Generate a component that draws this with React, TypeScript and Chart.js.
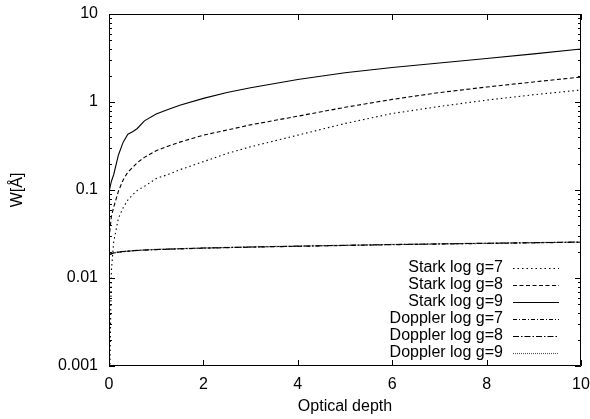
import { useEffect, useRef } from "react";
import { Chart, registerables } from "chart.js";

Chart.register(...registerables);

const depth = [0, 0.05, 0.1, 0.2, 0.3, 0.4, 0.5, 0.6, 0.75, 1, 1.25, 1.5, 2, 2.5, 3, 4, 5, 6, 7, 8, 9, 10];

const starkG7 = [0.0002, 0.012, 0.026, 0.048, 0.063, 0.077, 0.088, 0.099, 0.11, 0.135, 0.15, 0.17, 0.21, 0.26, 0.31, 0.42, 0.57, 0.74, 0.89, 1.05, 1.21, 1.37];
const starkG8 = [0.028, 0.05, 0.064, 0.097, 0.13, 0.16, 0.18, 0.205, 0.235, 0.28, 0.315, 0.35, 0.42, 0.48, 0.55, 0.69, 0.87, 1.07, 1.28, 1.48, 1.69, 1.92];
const starkG9 = [0.095, 0.125, 0.15, 0.25, 0.35, 0.43, 0.46, 0.5, 0.61, 0.73, 0.82, 0.92, 1.1, 1.28, 1.45, 1.8, 2.15, 2.47, 2.78, 3.12, 3.52, 4.0];
const dopplerG7 = [0.0184, 0.0188, 0.0192, 0.0196, 0.0199, 0.0201, 0.0203, 0.0205, 0.0207, 0.021, 0.0212, 0.0214, 0.0218, 0.0221, 0.0224, 0.0229, 0.0234, 0.0239, 0.0243, 0.0247, 0.0251, 0.0255];
const dopplerG8 = [0.0185, 0.0189, 0.0193, 0.0197, 0.02, 0.0202, 0.0204, 0.0206, 0.0208, 0.0211, 0.0213, 0.0215, 0.0219, 0.0222, 0.0225, 0.023, 0.0235, 0.024, 0.0244, 0.0248, 0.0252, 0.0256];
const dopplerG9 = [0.0186, 0.019, 0.0194, 0.0198, 0.0201, 0.0203, 0.0205, 0.0207, 0.0209, 0.0212, 0.0214, 0.0216, 0.022, 0.0223, 0.0226, 0.0231, 0.0236, 0.0241, 0.0245, 0.0249, 0.0253, 0.0257];

const seriesLabels = [
  "Stark log g=7",
  "Stark log g=8",
  "Stark log g=9",
  "Doppler log g=7",
  "Doppler log g=8",
  "Doppler log g=9",
];
const seriesValues = [starkG7, starkG8, starkG9, dopplerG7, dopplerG8, dopplerG9];
const seriesDash: number[][] = [[1.5, 3], [4, 2.5], [], [4, 2, 1, 2], [6, 2, 1.5, 2], [1, 1]];
const seriesColor = ["#000", "#000", "#000", "#000", "#000", "#555"];

const xTickValues = [0, 2, 4, 6, 8, 10];
const yTickValues = [0.001, 0.01, 0.1, 1, 10];

const FONT = "'Liberation Sans', Arial, Helvetica, sans-serif";

const zeroPad = (s: any) => {
  s.paddingLeft = 0;
  s.paddingRight = 0;
  s.paddingTop = 0;
  s.paddingBottom = 0;
};

const framePlugin = {
  id: "gnuplotFrame",
  afterDraw(chart: any) {
    const { ctx, chartArea } = chart;
    const { left, right, top, bottom } = chartArea;
    const xs = chart.scales.x;
    const ys = chart.scales.y;
    ctx.save();
    ctx.strokeStyle = "#000";
    ctx.lineWidth = 1;
    ctx.setLineDash([]);
    ctx.beginPath();
    ctx.rect(Math.round(left) + 0.5, Math.round(top) + 0.5, Math.round(right - left) - 1, Math.round(bottom - top) - 1);
    ctx.stroke();

    const major = 6;
    const minor = 3;
    ctx.beginPath();
    for (const v of xTickValues) {
      const px = Math.round(xs.getPixelForValue(v)) + 0.5;
      ctx.moveTo(px, bottom);
      ctx.lineTo(px, bottom - major);
      ctx.moveTo(px, top);
      ctx.lineTo(px, top + major);
    }
    for (let d = 0; d < yTickValues.length; d++) {
      const base = yTickValues[d];
      const py = Math.round(ys.getPixelForValue(base)) + 0.5;
      ctx.moveTo(left, py);
      ctx.lineTo(left + major, py);
      ctx.moveTo(right, py);
      ctx.lineTo(right - major, py);
      if (d < yTickValues.length - 1) {
        for (let k = 2; k <= 9; k++) {
          const pm = Math.round(ys.getPixelForValue(base * k)) + 0.5;
          ctx.moveTo(left, pm);
          ctx.lineTo(left + minor, pm);
          ctx.moveTo(right, pm);
          ctx.lineTo(right - minor, pm);
        }
      }
    }
    ctx.stroke();

    // legend (gnuplot style: right aligned text, sample line on the right)
    ctx.font = `16px ${FONT}`;
    ctx.fillStyle = "#000";
    ctx.textAlign = "right";
    ctx.textBaseline = "middle";
    const textRight = right - 78;
    const lineStart = right - 68;
    const lineEnd = right - 22;
    const rowTop = bottom - 98;
    const rowH = 17;
    chart.data.datasets.forEach((ds: any, i: number) => {
      const y = rowTop + i * rowH;
      ctx.fillText(ds.label, textRight, y);
      ctx.save();
      ctx.strokeStyle = ds.borderColor;
      ctx.lineWidth = ds.borderWidth;
      ctx.setLineDash(ds.borderDash || []);
      ctx.beginPath();
      ctx.moveTo(lineStart, Math.round(y) + 0.5);
      ctx.lineTo(lineEnd, Math.round(y) + 0.5);
      ctx.stroke();
      ctx.restore();
    });
    ctx.restore();
  },
};

export default function App() {
  const canvasRef = useRef<HTMLCanvasElement | null>(null);

  useEffect(() => {
    if (!canvasRef.current) return;
    Chart.defaults.font.family = FONT;
    Chart.defaults.font.size = 16;
    Chart.defaults.color = "#000";
    const font = { family: FONT, size: 16 };
    const chart = new Chart(canvasRef.current, {
      type: "line",
      data: {
        datasets: seriesLabels.map((label, i) => ({
          label,
          data: depth.map((d, j) => ({ x: d, y: seriesValues[i][j] })),
          borderColor: seriesColor[i],
          borderWidth: 1.1,
          borderDash: seriesDash[i],
          pointRadius: 0,
          fill: false,
          tension: 0,
        })),
      },
      options: {
        responsive: false,
        animation: false,
        layout: { padding: { top: 14, right: 9, left: 0, bottom: 0 } },
        plugins: {
          legend: { display: false },
          tooltip: { enabled: false },
        },
        scales: {
          x: {
            type: "linear",
            min: 0,
            max: 10,
            afterBuildTicks: (s: any) => {
              s.ticks = xTickValues.map((v) => ({ value: v }));
            },
            afterFit: (s: any) => {
              s.height = 53;
              zeroPad(s);
            },
            grid: { display: false, drawTicks: false },
            border: { display: false },
            ticks: { font, color: "#000", padding: 9, maxRotation: 0, autoSkip: false },
            title: {
              display: true,
              text: "Optical depth",
              font,
              color: "#000",
              padding: { top: 0, bottom: 3 },
            },
          },
          y: {
            type: "logarithmic",
            min: 0.001,
            max: 10,
            afterBuildTicks: (s: any) => {
              s.ticks = yTickValues.map((v) => ({ value: v, major: true }));
            },
            afterFit: (s: any) => {
              s.width = 109;
              zeroPad(s);
            },
            grid: { display: false, drawTicks: false },
            border: { display: false },
            ticks: {
              font,
              color: "#000",
              padding: 11,
              autoSkip: false,
              callback: (v: any) => String(v),
            },
            title: {
              display: true,
              text: "W[Å]",
              font,
              color: "#000",
              padding: { top: 8, bottom: 0 },
            },
          },
        },
      },
      plugins: [framePlugin],
    } as any);
    return () => chart.destroy();
  }, []);

  return (
    <div style={{ position: "fixed", left: 0, top: 0, width: 590, height: 419, background: "#fff" }}>
      <canvas ref={canvasRef} width={590} height={419} style={{ display: "block", width: 590, height: 419 }} />
    </div>
  );
}
